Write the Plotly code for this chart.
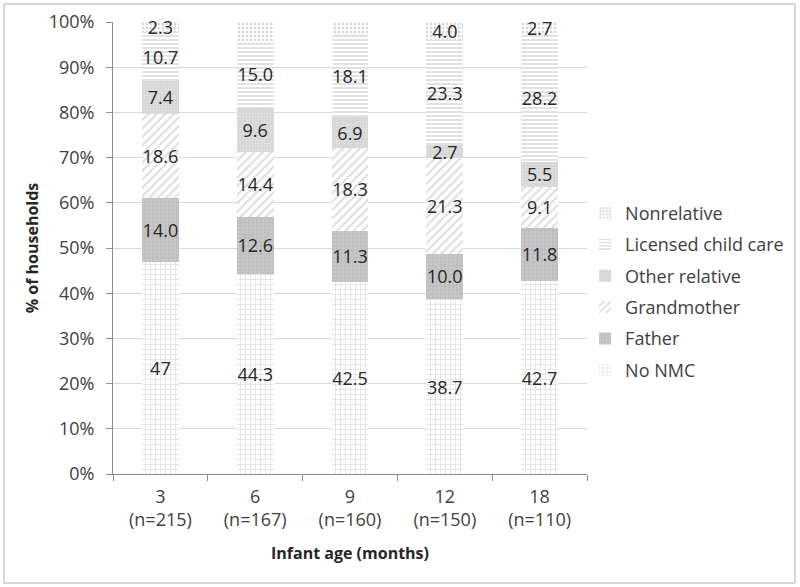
import plotly.graph_objects as go

ages = ["3<br>(n=215)", "6<br>(n=167)", "9<br>(n=160)", "12<br>(n=150)", "18<br>(n=110)"]
no_nmc = [47, 44.3, 42.5, 38.7, 42.7]
father = [14.0, 12.6, 11.3, 10.0, 11.8]
grandmother = [18.6, 14.4, 18.3, 21.3, 9.1]
other_relative = [7.4, 9.6, 6.9, 2.7, 5.5]
licensed = [10.7, 15.0, 18.1, 23.3, 28.2]
nonrelative = [2.3, 4.2, 3.1, 4.0, 2.7]

labels_no_nmc = ["47", "44.3", "42.5", "38.7", "42.7"]

series = [
    ("No NMC", no_nmc, labels_no_nmc, dict(shape="+", bgcolor="white", fgcolor="#b4b4b4", size=5, solidity=0.25)),
    ("Father", father, None, dict(shape=".", bgcolor="#bfbfbf", fgcolor="#d2d2d2", size=4, solidity=0.3)),
    ("Grandmother", grandmother, None, dict(shape="/", bgcolor="white", fgcolor="#bcbcbc", size=6, solidity=0.35)),
    ("Other relative", other_relative, None, dict(shape=".", bgcolor="#d6d6d6", fgcolor="#eaeaea", size=3, solidity=0.3)),
    ("Licensed child care", licensed, None, dict(shape="-", bgcolor="white", fgcolor="#b8b8b8", size=4, solidity=0.4)),
    ("Nonrelative", nonrelative, None, dict(shape=".", bgcolor="white", fgcolor="#b4b4b4", size=4, solidity=0.4)),
]

fig = go.Figure()
n = len(series)
for i, (name, vals, labs, pat) in enumerate(series):
    txt = labs if labs else [f"{v:.1f}" for v in vals]
    fig.add_trace(go.Bar(
        x=ages, y=vals, name=name, text=txt,
        textposition="inside", insidetextanchor="middle", textangle=0,
        textfont=dict(color="#262626", size=18, family="Open Sans"),
        marker=dict(color=pat["bgcolor"], pattern=pat, line=dict(width=0)),
        legendgroup=name, legendrank=n - i, cliponaxis=False,
    ))

fig.update_layout(
    barmode="stack", bargap=0.61,
    width=800, height=587,
    margin=dict(l=113, r=213, t=22, b=113, autoexpand=False),
    paper_bgcolor="white", plot_bgcolor="white",
    font=dict(family="Open Sans", size=18, color="#404040"),
    uniformtext=dict(minsize=17, mode="show"),
    showlegend=True,
    legend=dict(x=0.996, xanchor="left", y=0.618, yanchor="top",
                traceorder="grouped", tracegroupgap=5,
                font=dict(size=18, color="#404040"), bgcolor="rgba(0,0,0,0)"),
    xaxis=dict(showline=True, linecolor="#8c8c8c", ticks="outside", tickson="boundaries",
               ticklen=6, tickcolor="#8c8c8c", automargin=True, ticklabelstandoff=6,
               title=dict(text="<b>Infant age (months)</b>", font=dict(size=16, color="#262626"), standoff=17)),
    yaxis=dict(range=[0, 100], dtick=10, ticksuffix="%", showline=True, linecolor="#8c8c8c",
               ticks="outside", ticklen=6, tickcolor="#8c8c8c", automargin=True, ticklabelstandoff=8,
               showgrid=True, gridcolor="#d9d9d9", zeroline=False,
               title=dict(text="<b>% of households</b>", font=dict(size=16, color="#262626"), standoff=6)),
    shapes=[dict(type="rect", xref="paper", yref="paper",
                 x0=-109/474, x1=(795-113)/474, y0=-(583-474)/452, y1=(474-4)/452,
                 line=dict(color="#b0b0b0", width=1), fillcolor="rgba(0,0,0,0)", layer="above")],
)

fig.write_html("out.html", post_script="document.body.style.margin='0';",
               config={"displayModeBar": False})
